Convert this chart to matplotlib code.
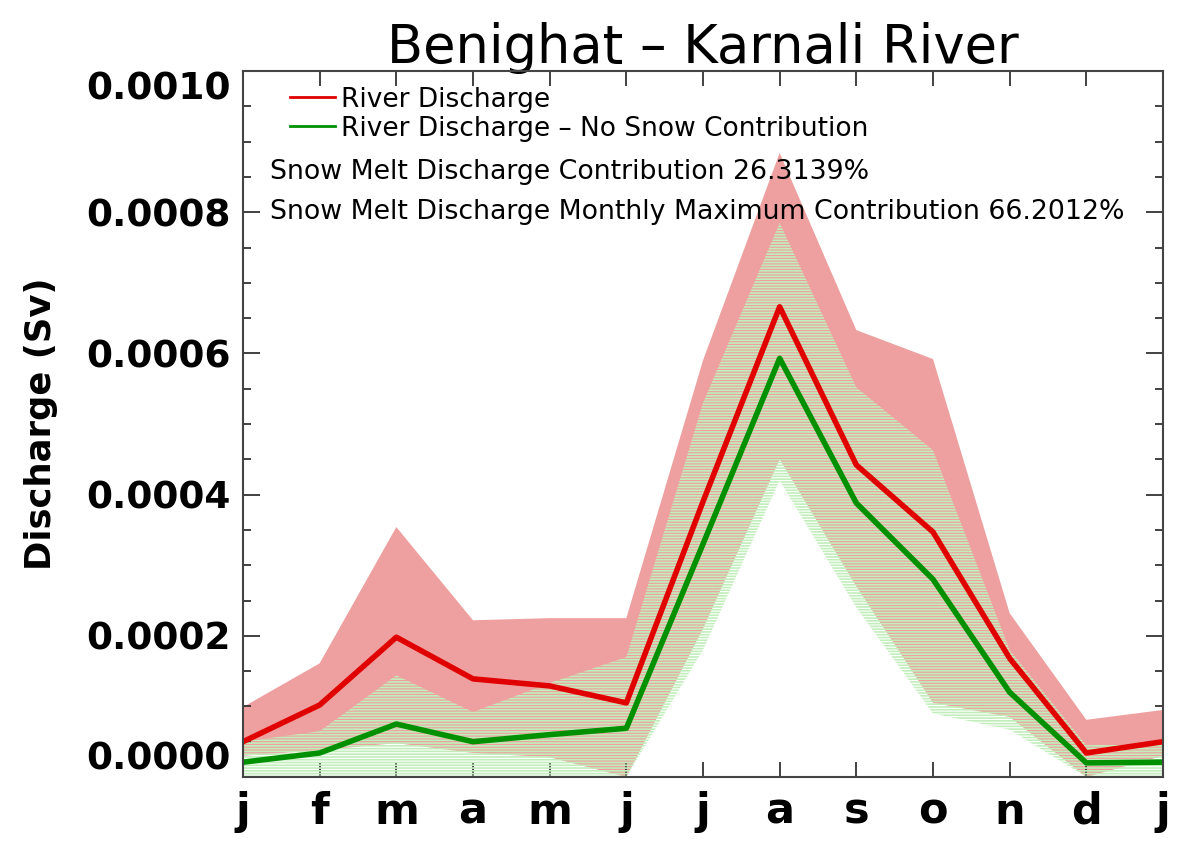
import numpy as np
import matplotlib
matplotlib.use('Agg')
import matplotlib.pyplot as plt
from matplotlib.ticker import MultipleLocator

# monthly climatology, Jan..Dec plus Jan again
months = ['j', 'f', 'm', 'a', 'm', 'j', 'j', 'a', 's', 'o', 'n', 'd', 'j']
riverQ = [5.0e-5, 1.02e-4, 1.98e-4, 1.39e-4, 1.29e-4, 1.05e-4, 3.9e-4,
          6.66e-4, 4.42e-4, 3.47e-4, 1.68e-4, 3.4e-5, 5.0e-5]
noSnowQ = [2.1e-5, 3.4e-5, 7.5e-5, 5.0e-5, 6.0e-5, 6.9e-5, 3.3e-4,
           5.93e-4, 3.88e-4, 2.8e-4, 1.2e-4, 2.0e-5, 2.1e-5]
# spread of each series (min/max envelopes)
riverHi = [9.9e-5, 1.61e-4, 3.54e-4, 2.22e-4, 2.25e-4, 2.25e-4, 5.9e-4,
           8.84e-4, 6.33e-4, 5.92e-4, 2.32e-4, 8.1e-5, 9.5e-5]
riverLo = [3.0e-5, 3.8e-5, 4.8e-5, 3.4e-5, 2.8e-5, 0.0, 2.1e-4,
           4.5e-4, 2.7e-4, 1.05e-4, 8.5e-5, 0.0, 3.0e-5]
noSnowHi = [5.0e-5, 6.5e-5, 1.44e-4, 9.2e-5, 1.33e-4, 1.7e-4, 5.3e-4,
            7.85e-4, 5.52e-4, 4.63e-4, 1.8e-4, 4.5e-5, 4.8e-5]
noSnowLo = [0.0, 0.0, 0.0, 0.0, 0.0, 0.0, 1.8e-4,
            4.2e-4, 2.4e-4, 9.0e-5, 6.7e-5, 0.0, 0.0]
snowContrib = 26.3139
snowMaxContrib = 66.2012
yticks = [0.0, 0.0002, 0.0004, 0.0006, 0.0008, 0.0010]

plt.rcParams['hatch.linewidth'] = 1.2
x = np.arange(len(months))

fig = plt.figure(figsize=(11.78, 8.46), dpi=100)
ax = fig.add_axes([243 / 1178, 1 - 777 / 846, 920 / 1178, 706 / 846])

# envelopes: red solid, green as horizontal line fill on top
ax.fill_between(x, riverLo, riverHi, facecolor='#ee9f9f', edgecolor='none', zorder=1)
ax.fill_between(x, noSnowLo, noSnowHi, facecolor='none', edgecolor='#c2eebb',
                linewidth=0, hatch='------', zorder=2)

ax.plot(x, riverQ, color='#e00000', lw=4.0, label='River Discharge', zorder=4)
ax.plot(x, noSnowQ, color='#009000', lw=4.0,
        label='River Discharge \u2013 No Snow Contribution', zorder=4)

ax.set_xlim(0, 12)
ax.set_ylim(0, 0.001)
ax.set_xticks(x)
ax.set_xticklabels(months, fontsize=31, fontweight='bold')
ax.set_yticks(yticks)
ax.yaxis.set_minor_locator(MultipleLocator(0.00005))
ylabs = ax.set_yticklabels(['%.4f' % v for v in yticks], fontsize=27, fontweight='bold')
ylabs[0].set_va('bottom')
ylabs[-1].set_va('top')

ax.tick_params(axis='x', which='major', direction='in', length=11, width=1.3,
               top=True, pad=10, color='#333333')
ax.tick_params(axis='y', which='major', direction='in', length=12, width=1.3,
               right=True, pad=9, color='#333333')
ax.tick_params(axis='y', which='minor', direction='in', length=6, width=1.3,
               right=True, color='#333333')
for s in ax.spines.values():
    s.set_linewidth(1.5)
    s.set_color('#444444')
    s.set_zorder(5)

ax.set_ylabel('Discharge (Sv)', fontsize=25.5, fontweight='bold', labelpad=20)
ax.set_title('Benighat \u2013 Karnali River', fontsize=38, pad=6)

leg = ax.legend(loc='upper left', bbox_to_anchor=(0.051, 0.978), frameon=False,
                fontsize=19, handlelength=1.7, handletextpad=0.25, labelspacing=0.12,
                borderpad=0, borderaxespad=0)
for ln in leg.get_lines():
    ln.set_linewidth(2.0)
ax.text(0.029, 0.857, 'Snow Melt Discharge Contribution %.4f%%' % snowContrib,
        transform=ax.transAxes, fontsize=19.3, va='center', ha='left', zorder=6)
ax.text(0.029, 0.800, 'Snow Melt Discharge Monthly Maximum Contribution %.4f%%' % snowMaxContrib,
        transform=ax.transAxes, fontsize=19.3, va='center', ha='left', zorder=6)

fig.savefig('out.png', dpi=100)
